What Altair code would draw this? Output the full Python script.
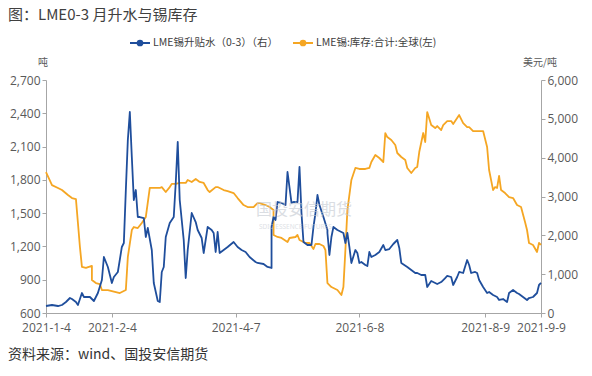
import altair as alt
import pandas as pd

# ---- axis ticks (category-axis positions, trading-day index) ----
x_tick_pos = [0, 33, 95, 157, 220, 248]
x_tick_labels = ["2021-1-4", "2021-2-4", "2021-4-7", "2021-6-8", "2021-8-9", "2021-9-9"]
left_ticks = [600, 900, 1200, 1500, 1800, 2100, 2400, 2700]
right_ticks = [0, 1000, 2000, 3000, 4000, 5000, 6000]

BLUE_NAME = "LME锡升贴水（0-3）（右）"
ORANGE_NAME = "LME锡:库存:合计:全球(左)"
BLUE = "#1F4E9C"
ORANGE = "#F5A623"

# ---- LME tin stocks (tonnes, left axis) ----
stock_idx = [0, 3, 6, 8, 11, 13, 15, 16, 17, 18, 20, 23, 23, 25, 27, 28, 31, 33, 35, 37,
             38, 40, 41, 43, 44, 46, 48, 50, 52, 54, 57, 58, 60, 62, 63, 65, 67, 70, 71, 73,
             75, 77, 79, 81, 82, 85, 86, 89, 91, 94, 96, 99, 101, 104, 106, 107, 110, 112, 114, 114,
             116, 118, 121, 122, 125, 126, 127, 130, 132, 134, 135, 137, 139, 140, 141, 143, 146, 148, 149, 150,
             151, 153, 155, 157, 160, 162, 163, 165, 167, 169, 170, 171, 173, 175, 176, 178, 180, 181, 183, 185,
             186, 187, 189, 190, 191, 193, 195, 196, 198, 199, 201, 203, 204, 206, 207, 209, 211, 212, 214, 216,
             219, 221, 222, 224, 225, 226, 227, 228, 230, 232, 234, 236, 238, 240, 241, 242, 244, 246, 247, 248]
stock_val = [1870, 1753, 1727, 1708, 1663, 1636, 1627, 1411, 1195, 1015, 1006, 1024, 897, 870, 861, 807, 807, 798, 789, 780,
             789, 807, 1105, 1348, 1375, 1366, 1411, 1465, 1727, 1727, 1727, 1735, 1690, 1735, 1763, 1763, 1772, 1772, 1799, 1781,
             1808, 1781, 1772, 1708, 1690, 1735, 1735, 1708, 1699, 1681, 1636, 1573, 1555, 1555, 1591, 1591, 1573, 1555, 1528, 1303,
             1285, 1276, 1240, 1276, 1285, 1303, 1258, 1231, 1231, 1177, 1222, 1222, 1204, 1168, 870, 834, 807, 762, 834, 1168,
             1528, 1799, 1907, 1898, 1898, 1907, 1961, 2024, 1997, 1961, 2222, 2186, 2159, 2114, 2042, 2006, 1979, 1907, 1862, 1907,
             1916, 2051, 2222, 2141, 2411, 2294, 2267, 2285, 2249, 2294, 2330, 2330, 2303, 2357, 2384, 2312, 2276, 2276, 2240, 2240,
             2240, 2096, 1889, 1708, 1735, 1727, 1835, 1708, 1681, 1645, 1636, 1573, 1555, 1420, 1348, 1231, 1213, 1150, 1231, 1213]

# ---- LME tin 0-3 spread (USD/t, right axis) ----
spread_idx = [0, 3, 6, 8, 10, 12, 13, 15, 16, 18, 19, 22, 24, 26, 28, 29, 31, 33, 34, 36,
              38, 39, 40, 41, 42, 43, 44, 45, 46, 47, 49, 50, 51, 53, 54, 56, 57, 58, 59, 60,
              62, 64, 65, 66, 67, 69, 70, 71, 73, 75, 76, 78, 79, 81, 83, 84, 85, 86, 87, 89,
              91, 94, 96, 98, 100, 102, 105, 106, 109, 111, 113, 113, 114, 115, 116, 118, 120, 121, 123, 124,
              126, 127, 128, 129, 131, 133, 134, 135, 136, 137, 139, 141, 141, 142, 143, 144, 146, 148, 149, 150,
              151, 152, 153, 155, 156, 157, 158, 160, 161, 162, 163, 165, 167, 169, 170, 172, 174, 176, 177, 178,
              181, 183, 185, 186, 188, 190, 191, 193, 195, 196, 198, 200, 201, 203, 204, 206, 207, 209, 211, 212,
              213, 215, 216, 217, 219, 221, 222, 224, 226, 227, 229, 231, 232, 234, 236, 237, 239, 241, 242, 244,
              246, 247, 248]
spread_val = [180, 206, 180, 206, 283, 386, 360, 283, 206, 515, 412, 412, 309, 515, 850, 1442, 1185, 773, 927, 1056,
              1700, 1803, 3167, 4455, 5176, 4017, 2910, 3167, 2472, 2472, 2446, 1957, 2189, 1622, 773, 309, 283, 1056, 1185, 1957,
              2318, 2472, 3348, 4403, 2910, 1880, 901, 1622, 2575, 2343, 2137, 1931, 1545, 2215, 2137, 2060, 1571, 2086, 1545, 1622,
              1700, 1828, 1700, 1622, 1571, 1442, 1313, 1288, 1262, 1185, 1159, 2215, 2472, 2395, 2858, 2833, 2781, 3631, 2833, 2858,
              2858, 3760, 2575, 1828, 1751, 1751, 2215, 2575, 3039, 2781, 2472, 2137, 2060, 1494, 1957, 2215, 2137, 2086, 2060, 1803,
              2060, 1700, 1288, 1622, 1545, 1288, 1313, 1236, 1210, 1571, 1442, 1494, 1571, 1751, 1622, 1648, 1777, 1880, 1674, 1288,
              1185, 1107, 1030, 1030, 979, 979, 670, 824, 773, 747, 798, 901, 953, 927, 721, 927, 1056, 1030, 1365, 1236,
              1030, 1056, 1030, 850, 670, 515, 541, 464, 412, 335, 360, 283, 515, 592, 515, 490, 412, 335, 386, 412,
              515, 721, 773]

assert len(stock_idx) == len(stock_val)
assert len(spread_idx) == len(spread_val)

stock_df = pd.DataFrame({"idx": stock_idx, "val": stock_val, "ord": range(len(stock_idx))})
spread_df = pd.DataFrame({"idx": spread_idx, "val": spread_val, "ord": range(len(spread_idx))})

AX_COLOR = "#A6A6A6"
LBL_COLOR = "#595959"
NUM_FONT = "Open Sans"
CJK = "Noto Sans CJK SC"

label_expr = "".join(f"datum.value == {p} ? '{l}' : " for p, l in zip(x_tick_pos, x_tick_labels)) + "''"

x_scale = alt.Scale(domain=[0, 248], nice=False, zero=False)


def make_x_axis():
    return alt.Axis(values=x_tick_pos, labelExpr=label_expr, title=None, grid=False,
                    domainColor=AX_COLOR, tickColor=AX_COLOR, tickSize=4, labelColor=LBL_COLOR,
                    labelFont=NUM_FONT, labelFontSize=12, labelOverlap=False, labelBound=False,
                    labelFlush=False, labelPadding=5)


stock_line = alt.Chart(stock_df).mark_line(color=ORANGE, strokeWidth=1.8, strokeJoin="round").encode(
    x=alt.X("idx:Q", scale=x_scale, axis=make_x_axis()),
    y=alt.Y("val:Q", scale=alt.Scale(domain=[600, 2700], nice=False, zero=False),
            axis=alt.Axis(orient="left", values=left_ticks, format=",.0f", title=None, grid=False,
                          domainColor=AX_COLOR, tickColor=AX_COLOR, tickSize=4,
                          labelColor=LBL_COLOR, labelFont=NUM_FONT, labelFontSize=12, labelPadding=2)),
    order="ord:Q",
)

spread_line = alt.Chart(spread_df).mark_line(color=BLUE, strokeWidth=1.8, strokeJoin="round").encode(
    x=alt.X("idx:Q", scale=x_scale, axis=make_x_axis()),
    y=alt.Y("val:Q", scale=alt.Scale(domain=[0, 6000], nice=False, zero=True),
            axis=alt.Axis(orient="right", values=right_ticks, format=",.0f", title=None, grid=False,
                          domainColor=AX_COLOR, tickColor=AX_COLOR, tickSize=4,
                          labelColor=LBL_COLOR, labelFont=NUM_FONT, labelFontSize=12, labelPadding=2)),
    order="ord:Q",
)

one = pd.DataFrame({"a": [0]})


def txt(s, x, y, size, color, align="left", font=CJK, opacity=1.0, weight="normal"):
    return alt.Chart(pd.DataFrame({"t": [s]})).mark_text(
        align=align, baseline="middle", fontSize=size, color=color, font=font,
        opacity=opacity, fontWeight=weight
    ).encode(x=alt.value(x), y=alt.value(y), text="t:N")


def legend_item(x0, color, label):
    rule = alt.Chart(one).mark_rule(color=color, strokeWidth=2).encode(
        x=alt.value(x0), x2=alt.value(x0 + 20), y=alt.value(-37))
    dot = alt.Chart(one).mark_point(filled=True, color=color, size=45, opacity=1).encode(
        x=alt.value(x0 + 10), y=alt.value(-37))
    lab = txt(label, x0 + 23, -37, 10.5, "#404040")
    return [rule, dot, lab]


chart = alt.layer(stock_line, spread_line).resolve_scale(y="independent")

deco = [
    txt("国投安信期货", 210, 130, 16, "#C2C8D0", opacity=0.6),
    txt("SDIC ESSENCE FUTURES", 213, 147, 6.5, "#C9CED6", opacity=0.6, font="Noto Sans"),
    txt("图：LME0-3 月升水与锡库存", -38, -65, 15, "#404040"),
    txt("资料来源：wind、国投安信期货", -38, 275, 14, "#333333"),
    txt("吨", -3, -17, 10, LBL_COLOR, align="center"),
    txt("美元/吨", 494, -17, 10, LBL_COLOR, align="center"),
] + legend_item(84, BLUE, BLUE_NAME) + legend_item(247, ORANGE, ORANGE_NAME)

full = alt.layer(chart, *deco).properties(
    width=495, height=233,
    autosize=alt.AutoSizeParams(type="none"),
    padding={"left": 38, "top": 72, "right": 43, "bottom": 55},
    background="white",
).configure_view(stroke=None)

full.save("out.html", embed_options={"renderer": "svg", "actions": False})
